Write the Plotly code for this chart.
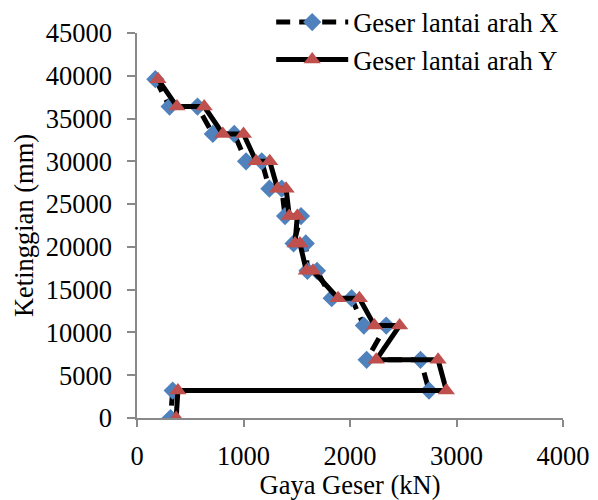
import plotly.graph_objects as go

# Storey elevations (mm) and shear values (kN), listed from the roof down
elev_x = [39600, 36400, 36400, 33200, 33200, 30000, 30000, 26800, 26800,
          23600, 23600, 20400, 20400, 17200, 17200, 14000, 14000, 10800, 10800,
          6800, 6800, 3200, 3200, 0]
shear_x = [172, 306, 568, 712, 913, 1024, 1171, 1243, 1359,
           1390, 1540, 1470, 1585, 1600, 1690, 1828, 2015, 2130, 2340,
           2156, 2662, 2742, 335, 315]

elev_y = [39600, 36400, 36400, 33200, 33200, 30000, 30000, 26800, 26800,
          23600, 23600, 20400, 20400, 17200, 17200, 14000, 14000, 10800, 10800,
          6800, 6800, 3200, 3200, 0]
shear_y = [197, 375, 631, 806, 1000, 1118, 1246, 1320, 1400,
           1430, 1505, 1484, 1530, 1590, 1652, 1888, 2088, 2230, 2466,
           2246, 2827, 2905, 384, 368]

FONT = "Liberation Serif"
AXIS_GRAY = "#898989"
TXT = dict(family=FONT, size=26.5, color="black")

fig = go.Figure()
fig.add_trace(go.Scatter(
    x=shear_x, y=elev_x, mode="lines+markers", name="Geser lantai arah X",
    line=dict(color="black", width=5, dash="14px,9px"),
    marker=dict(symbol="diamond", size=14, color="#4F81BD",
                line=dict(width=0)),
))
fig.add_trace(go.Scatter(
    x=shear_y, y=elev_y, mode="lines+markers", name="Geser lantai arah Y",
    line=dict(color="black", width=5),
    marker=dict(symbol="triangle-up", size=15, color="#C0504D",
                line=dict(width=0)),
))

fig.update_layout(
    width=598, height=500,
    margin=dict(l=137, r=35, t=33, b=82, autoexpand=False),
    paper_bgcolor="white", plot_bgcolor="white",
    font=TXT,
    showlegend=True,
    legend=dict(
        x=0.315, y=1.09, xanchor="left", yanchor="top",
        bgcolor="rgba(0,0,0,0)", borderwidth=0,
        font=TXT,
        itemwidth=72, tracegroupgap=0,
    ),
    xaxis=dict(
        range=[0, 4000], tickvals=[0, 1000, 2000, 3000, 4000],
        tickformat="d", tickfont=TXT,
        showgrid=False, zeroline=False,
        showline=True, linecolor=AXIS_GRAY, linewidth=1.5,
        ticks="outside", ticklen=7, tickcolor=AXIS_GRAY, tickwidth=1.5,
        ticklabelstandoff=6,
        title=dict(text="Gaya Geser (kN)", standoff=10, font=TXT),
    ),
    yaxis=dict(
        range=[0, 45000], tickvals=list(range(0, 45001, 5000)),
        tickformat="d", tickfont=TXT,
        showgrid=False, zeroline=False,
        showline=True, linecolor=AXIS_GRAY, linewidth=1.5,
        ticks="outside", ticklen=8, tickcolor=AXIS_GRAY, tickwidth=1.5,
        ticklabelstandoff=10,
        title=dict(text="Ketinggian (mm)", standoff=4, font=TXT),
    ),
)

fig.write_html("out.html")
